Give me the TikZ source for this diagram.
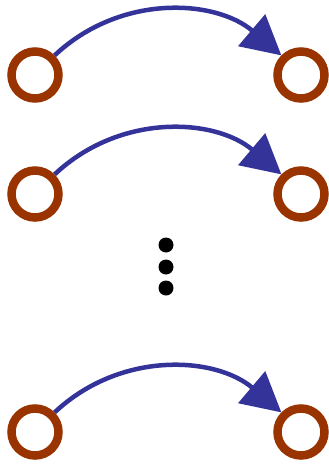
\documentclass[tikz,border=0pt]{standalone}
\usetikzlibrary{arrows.meta}
\definecolor{ringbrown}{HTML}{993300}
\definecolor{arcblue}{HTML}{333399}
\begin{document}
\begin{tikzpicture}[x=1pt,y=-1pt,
  ring/.style={circle,draw=ringbrown,line width=8.5pt,minimum size=47pt,inner sep=0pt},
  arc/.style={draw=arcblue,line width=4.5pt,-{Triangle[length=39pt,width=41pt]},arcblue},
  bigdot/.style={circle,fill=black,minimum size=15pt,inner sep=0pt}]
\useasboundingbox (0,0) rectangle (329,464);
\node[ring] (a1) at (35,75) {};
\node[ring] (b1) at (301,75) {};
\node[ring] (a2) at (35,194) {};
\node[ring] (b2) at (301,194) {};
\node[ring] (a3) at (35,432) {};
\node[ring] (b3) at (301,432) {};
\node[bigdot] (d1) at (166,245) {};
\node[bigdot] (d2) at (166,267) {};
\node[bigdot] (d3) at (166,288) {};
\foreach \i in {1,2,3}{
  \draw[arc] (a\i.45) .. controls +(66,-62) and +(-66,-56) .. (b\i.135);
}
\end{tikzpicture}
\end{document}
